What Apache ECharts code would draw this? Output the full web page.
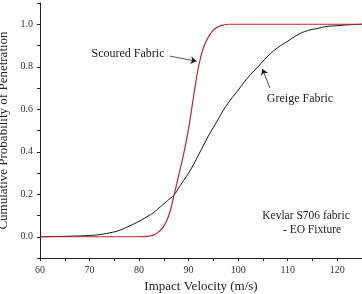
<!DOCTYPE html>
<html>
<head>
<meta charset="utf-8">
<script src="https://cdn.jsdelivr.net/npm/echarts@6/dist/echarts.min.js"></script>
<style>
    html, body { margin: 0; padding: 0; background: #fff; }
    #chart { width: 362px; height: 294px; }
</style>
</head>
<body>
<div id="chart"></div>
<script>
    // impact velocity (m/s)
    var velocity = [60, 65, 70, 72, 74, 76, 78, 80, 82, 83, 84, 85, 86, 87, 88, 89, 90, 91, 92, 93, 94, 95, 96, 97, 98,
        100, 102, 104, 106, 108, 110, 112, 114, 116, 118, 120, 122, 125];
    // cumulative probability of penetration
    var scoured = [0, 0, 0, 0, 0, 0, 0, 0, 0.003, 0.009, 0.024, 0.05, 0.1, 0.19, 0.29, 0.39, 0.51, 0.66, 0.8, 0.89, 0.94, 0.972, 0.988, 0.996, 1,
        1, 1, 1, 1, 1, 1, 1, 1, 1, 1, 1, 1, 1];
    var greige = [0, 0.002, 0.006, 0.01, 0.018, 0.03, 0.05, 0.073, 0.1, 0.115, 0.135, 0.155, 0.175, 0.195, 0.23, 0.265, 0.3, 0.34, 0.385, 0.43, 0.475, 0.515, 0.555, 0.595, 0.63,
        0.69, 0.75, 0.8, 0.85, 0.89, 0.92, 0.95, 0.97, 0.98, 0.99, 0.993, 0.997, 1];
    var xTicks = [60, 70, 80, 90, 100, 110, 120];
    var yTicks = ['0.0', '0.2', '0.4', '0.6', '0.8', '1.0'];

    var font = '"Liberation Serif", "DejaVu Serif", serif';

    function pairs(ys) {
        return velocity.map(function (v, i) { return [v, ys[i]]; });
    }

    var chart = echarts.init(document.getElementById('chart'));
    var option = {
        animation: false,
        backgroundColor: '#fff',
        textStyle: { fontFamily: font },
        grid: { left: 40, right: 0, top: 3, bottom: 36, containLabel: false, outerBoundsMode: 'none' },
        xAxis: {
            type: 'value', min: 60, max: 125, interval: 5,
            name: 'Impact Velocity (m/s)', nameLocation: 'middle', nameGap: 22,
            nameTextStyle: { fontFamily: font, fontSize: 13, color: '#222' },
            axisLine: { onZero: false, lineStyle: { color: '#222', width: 1 } },
            axisTick: { length: 3, lineStyle: { color: '#222' } },
            axisLabel: {
                fontFamily: font, fontSize: 10, color: '#333', margin: 7,
                formatter: function (v) { return xTicks.indexOf(v) >= 0 ? String(v) : ''; }
            },
            splitLine: { show: false }
        },
        yAxis: {
            type: 'value', min: -0.1, max: 1.1, interval: 0.1,
            name: 'Cumulative Probability of Penetration', nameLocation: 'middle', nameGap: 26,
            nameTextStyle: { fontFamily: font, fontSize: 13, color: '#222' },
            axisLine: { show: true, onZero: false, lineStyle: { color: '#222', width: 1 } },
            axisTick: { show: true, length: 3, lineStyle: { color: '#222' } },
            axisLabel: {
                fontFamily: font, fontSize: 10, color: '#333', margin: 7,
                formatter: function (v) {
                    var s = (Math.round(v * 10) / 10).toFixed(1);
                    return yTicks.indexOf(s) >= 0 ? s : '';
                }
            },
            splitLine: { show: false }
        },
        series: [{
            name: 'Greige Fabric', type: 'line', smooth: true, symbol: 'none',
            data: pairs(greige),
            lineStyle: { color: '#111', width: 1 },
            markLine: {
                silent: true, symbol: ['none', 'arrow'], symbolSize: 6,
                label: { show: false },
                lineStyle: { color: '#222', width: 0.8, type: 'solid' },
                data: [[{ coord: [106.4, 0.70] }, { coord: [104.9, 0.79] }]]
            }
        }, {
            name: 'Scoured Fabric', type: 'line', smooth: true, symbol: 'none',
            data: pairs(scoured),
            lineStyle: { color: '#b8282e', width: 1.2 },
            markLine: {
                silent: true, symbol: ['none', 'arrow'], symbolSize: 6,
                label: { show: false },
                lineStyle: { color: '#222', width: 0.8, type: 'solid' },
                data: [[{ coord: [86.2, 0.85] }, { coord: [91.6, 0.826] }]]
            }
        }],
        graphic: [
            { type: 'text', x: 128, y: 54, style: { text: 'Scoured Fabric', font: '12px ' + font, fill: '#222', textAlign: 'center', textVerticalAlign: 'middle' } },
            { type: 'text', x: 300, y: 99, style: { text: 'Greige Fabric', font: '12px ' + font, fill: '#222', textAlign: 'center', textVerticalAlign: 'middle' } },
            { type: 'text', x: 306, y: 216, style: { text: 'Kevlar S706 fabric', font: '11.5px ' + font, fill: '#222', textAlign: 'center', textVerticalAlign: 'middle' } },
            { type: 'text', x: 312, y: 230, style: { text: '- EO Fixture', font: '11.5px ' + font, fill: '#222', textAlign: 'center', textVerticalAlign: 'middle' } }
        ]
    };
    chart.setOption(option);
</script>
</body>
</html>
